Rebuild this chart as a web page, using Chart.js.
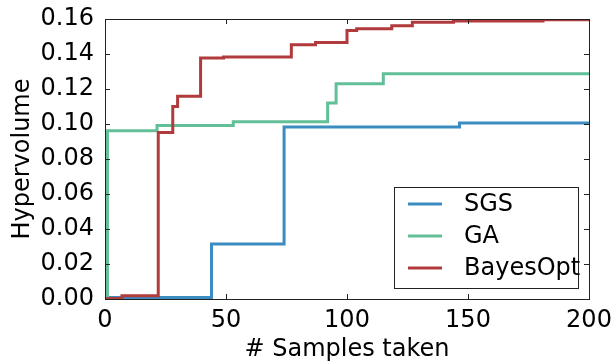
<!DOCTYPE html>
<html>
<head>
<meta charset="utf-8">
<script src="https://cdn.jsdelivr.net/npm/chart.js@4"></script>
<style>
  body { margin: 0; background: white; }
  canvas { display: block; }
</style>
</head>
<body>
<canvas id="myChart" width="613" height="364"></canvas>
<script>
// step curves: x where each new level starts
const sgsX = [0, 44, 74, 146.5, 200]
const sgsY = [0.0008, 0.0314, 0.0983, 0.1006, 0.1006]

const gaX = [0, 1, 21.5, 53, 92, 95.5, 115, 200]
const gaY = [0, 0.0962, 0.0992, 0.1013, 0.112, 0.123, 0.1287, 0.1287]

const boX = [0, 7, 22, 28, 30, 39.5, 49, 77, 87, 100, 104, 118.5, 127, 144, 181, 200]
const boY = [0.0003, 0.0019, 0.0952, 0.110, 0.1158, 0.1377, 0.1383, 0.1453, 0.1466,
             0.1535, 0.1545, 0.1562, 0.1581, 0.1588, 0.1596, 0.1596]

const seriesNames = ['SGS', 'GA', 'BayesOpt']
const seriesColors = ['#3a8cc1', '#62bf98', '#b13a3c']

const xTicks = [0, 50, 100, 150, 200]
const yTicks = [0, 0.02, 0.04, 0.06, 0.08, 0.10, 0.12, 0.14, 0.16]

const FONT = 'DejaVu Sans'

const toPoints = (xs, ys) => xs.map((x, i) => ({ x, y: ys[i] }))

function makeSet(i, xs, ys, order) {
  return {
    label: seriesNames[i],
    data: toPoints(xs, ys),
    borderColor: seriesColors[i],
    backgroundColor: seriesColors[i],
    borderWidth: 3,
    pointRadius: 0,
    stepped: 'before',
    order
  }
}

// matplotlib style frame with inward ticks on all four sides
const frameTicks = {
  id: 'frameTicks',
  afterDraw(chart) {
    const { ctx, chartArea: a, scales: { x, y } } = chart
    const len = 5
    ctx.save()
    ctx.strokeStyle = '#222'
    ctx.lineWidth = 1
    ctx.beginPath()
    xTicks.forEach(v => {
      const px = Math.round(x.getPixelForValue(v)) + 0.5
      ctx.moveTo(px, a.bottom); ctx.lineTo(px, a.bottom - len)
      ctx.moveTo(px, a.top); ctx.lineTo(px, a.top + len)
    })
    yTicks.forEach(v => {
      const py = Math.round(y.getPixelForValue(v)) + 0.5
      ctx.moveTo(a.left, py); ctx.lineTo(a.left + len, py)
      ctx.moveTo(a.right, py); ctx.lineTo(a.right - len, py)
    })
    ctx.stroke()
    ctx.strokeRect(Math.round(a.left) + 0.5, Math.round(a.top) + 0.5,
      Math.round(a.right - a.left), Math.round(a.bottom - a.top))
    ctx.restore()
  }
}

// legend box in the lower right corner of the plot
const boxLegend = {
  id: 'boxLegend',
  afterDraw(chart) {
    const { ctx } = chart
    const bx = 394, by = 187, bw = 184, bh = 101
    ctx.save()
    ctx.fillStyle = 'white'
    ctx.fillRect(bx, by, bw, bh)
    ctx.strokeStyle = '#222'
    ctx.lineWidth = 1
    ctx.strokeRect(bx + 0.5, by + 0.5, bw, bh)
    ctx.font = '24px ' + FONT
    ctx.textBaseline = 'middle'
    ctx.fillStyle = 'black'
    chart.data.datasets.forEach((ds, i) => {
      const ly = by + 17 + i * 32
      ctx.strokeStyle = ds.borderColor
      ctx.lineWidth = 3
      ctx.beginPath()
      ctx.moveTo(408, ly); ctx.lineTo(442, ly)
      ctx.stroke()
      ctx.fillText(ds.label, 464, ly + 1)
    })
    ctx.restore()
  }
}

const ctx = document.getElementById('myChart').getContext('2d')
new Chart(ctx, {
  type: 'line',
  data: {
    datasets: [
      makeSet(0, sgsX, sgsY, 2),
      makeSet(1, gaX, gaY, 1),
      makeSet(2, boX, boY, 0)
    ]
  },
  options: {
    responsive: false,
    animation: false,
    devicePixelRatio: 1,
    layout: { padding: { top: 19, right: 24, left: 0, bottom: 0 } },
    plugins: { legend: { display: false }, tooltip: { enabled: false } },
    scales: {
      x: {
        type: 'linear',
        min: 0,
        max: 200,
        afterBuildTicks: s => { s.ticks = xTicks.map(value => ({ value })) },
        afterFit: s => { s.height = 65; s.paddingLeft = 0; s.paddingRight = 0 },
        grid: { display: false, drawTicks: false },
        border: { display: false },
        ticks: { color: 'black', font: { family: FONT, size: 24 }, padding: 7, maxRotation: 0 },
        title: { display: true, text: '# Samples taken', color: 'black',
                 font: { family: FONT, size: 24 }, padding: { top: 0, bottom: 0 } }
      },
      y: {
        min: 0,
        max: 0.16,
        afterBuildTicks: s => { s.ticks = yTicks.map(value => ({ value })) },
        afterFit: s => { s.width = 105; s.paddingTop = 0; s.paddingBottom = 0 },
        grid: { display: false, drawTicks: false },
        border: { display: false },
        ticks: { color: 'black', font: { family: FONT, size: 24 }, padding: 11,
                 callback: v => v.toFixed(2) },
        title: { display: true, text: 'Hypervolume', color: 'black',
                 font: { family: FONT, size: 24 }, padding: { top: 8, bottom: 0 } }
      }
    }
  },
  plugins: [frameTicks, boxLegend]
})
</script>
</body>
</html>
